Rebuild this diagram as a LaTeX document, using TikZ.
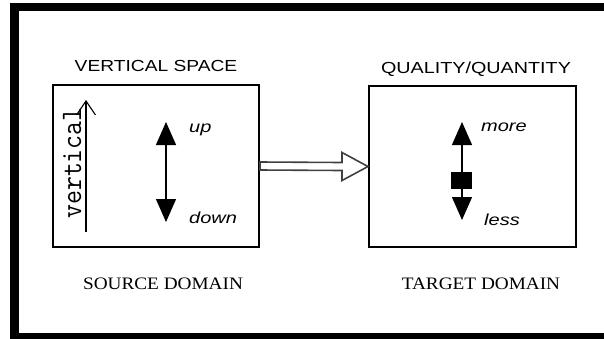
\documentclass[tikz,border=0pt]{standalone}
\usepackage{fontspec}
\setmainfont{Liberation Serif}
\setsansfont{Liberation Sans}
\usetikzlibrary{arrows.meta,calc}
\newcommand{\stretchtxt}[2]{\scalebox{#1}[1]{#2}}
\definecolor{arrowgray}{HTML}{404040}
\begin{document}
\begin{tikzpicture}[x=1pt,y=-1pt,
  framebar/.style={fill=black,draw=none},
  domainbox/.style={draw=black,line width=2pt,inner sep=0pt,fill=none},
  titletext/.style={inner sep=0pt,anchor=base,font=\fontsize{16}{16}\selectfont\sffamily},
  domaintext/.style={inner sep=0pt,anchor=base,font=\fontsize{17.5}{17.5}\selectfont\rmfamily},
  poletext/.style={inner sep=0pt,anchor=base west,font=\fontsize{16}{16}\selectfont\sffamily\itshape},
  dblarrow/.style={line width=1.3pt,{Triangle[width=20pt,length=23pt]}-{Triangle[width=20pt,length=23pt]}},
  axisarrow/.style={line width=1.1pt,-{Straight Barb[width=19pt,length=14pt,line width=1.1pt]}},
  bigarrow/.style={draw=arrowgray,line width=1.6pt,fill=white,line join=miter},
]
\useasboundingbox (0,0) rectangle (604,338);
% outer frame (cropped on right and bottom)
\fill[framebar] (10,3) rectangle (612,11);
\fill[framebar] (10,3) rectangle (19,345);
\fill[framebar] (10,333) rectangle (612,345);

% boxes
\node[domainbox,minimum width=206pt,minimum height=162pt] (src) at (156,166) {};
\node[domainbox,minimum width=207pt,minimum height=161pt] (tgt) at (472.5,166.5) {};

% titles
\node[titletext] (vtitle) at (156,71.5) {\stretchtxt{1.2}{VERTICAL SPACE}};
\node[titletext] (qtitle) at (476,73) {\stretchtxt{1.235}{QUALITY/QUANTITY}};
\node[domaintext] (srcname) at (163,289) {\stretchtxt{1.1}{SOURCE DOMAIN}};
\node[domaintext] (tgtname) at (481,289) {\stretchtxt{1.1}{TARGET DOMAIN}};

% vertical axis
\coordinate (vbot) at (86,232);
\coordinate (vtop) at (86,100);
\draw[axisarrow] (vbot) -- (vtop);
\node[rotate=90,anchor=base,inner sep=0pt] (vlabel) at (81,163)
  {\scalebox{1}[1.1]{\fontsize{27}{27}\selectfont\ttfamily vertical}};

% up/down
\coordinate (uptip) at (166,122);
\coordinate (downtip) at (166,222);
\draw[dblarrow] (uptip) -- (downtip);
\node[poletext] (uplab) at (189,132) {\stretchtxt{1.25}{up}};
\node[poletext] (downlab) at (189,223) {\stretchtxt{1.25}{down}};

% more/less
\coordinate (moretip) at (462,122);
\coordinate (lesstip) at (462,220);
\draw[dblarrow] (moretip) -- (lesstip);
\node[fill=black,inner sep=0pt,minimum width=21pt,minimum height=17pt] (midsq) at (461.5,180.5) {};
\node[poletext] (morelab) at (481,131) {\stretchtxt{1.25}{more}};
\node[poletext] (lesslab) at (484,225) {\stretchtxt{1.25}{less}};

% hollow mapping arrow
\draw[bigarrow] ($(src.east)+(0,-4)$) -- ($(tgt.west)+(-26,-4)$) -- ($(tgt.west)+(-26,-14)$)
  -- (tgt.west) -- ($(tgt.west)+(-26,14)$) -- ($(tgt.west)+(-26,4)$) -- ($(src.east)+(0,4)$) -- cycle;
\end{tikzpicture}
\end{document}
